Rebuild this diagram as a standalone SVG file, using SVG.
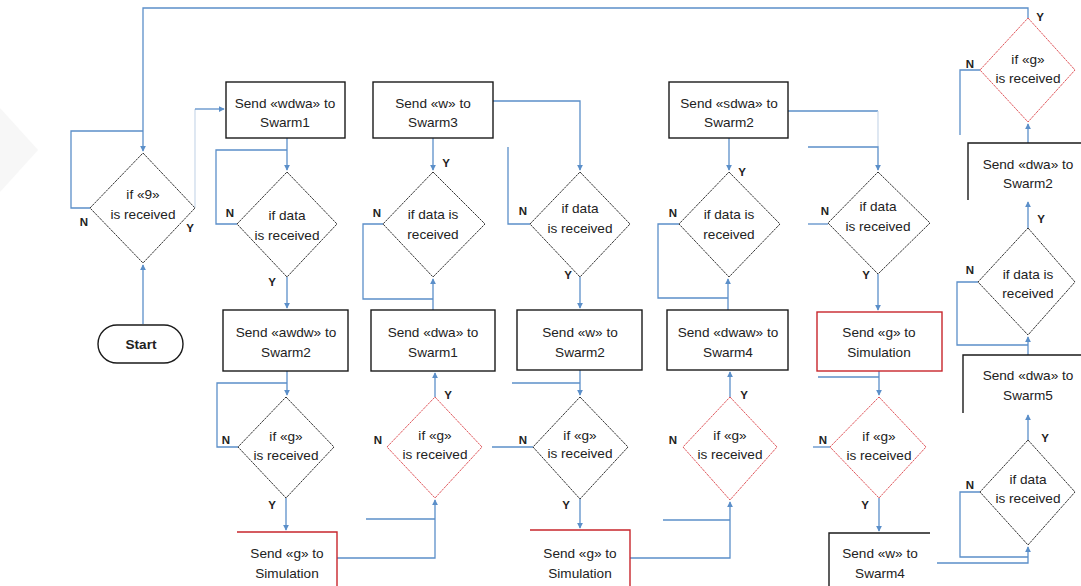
<svg xmlns="http://www.w3.org/2000/svg" width="1081" height="586" viewBox="0 0 1081 586">
  <style>
    .box { fill: #ffffff; stroke: #1a1a1a; stroke-width: 1.4; }
    .boxr { fill: #ffffff; stroke: #c8262c; stroke-width: 1.4; }
    .open { fill: none; stroke: #1a1a1a; stroke-width: 1.4; }
    .openr { fill: none; stroke: #c8262c; stroke-width: 1.4; }
    .dia { fill: #ffffff; stroke: #333333; stroke-width: 1; stroke-dasharray: 2.5 0.8; }
    .diar { fill: #ffffff; stroke: #e0575c; stroke-width: 1; stroke-dasharray: 2.5 0.8; }
    .t { font-family: "Liberation Sans", "Open Sans", sans-serif; font-size: 13.6px; fill: #222222; text-anchor: middle; }
    .yn { font-family: "Liberation Sans", sans-serif; font-size: 11.5px; font-weight: bold; fill: #222222; text-anchor: middle; }
    .c { fill: none; stroke: #5b8fc9; stroke-width: 1.3; }
    .cf { fill: none; stroke: #c9d8ea; stroke-width: 1.2; }
  </style>
  <defs>
    <marker id="arr" viewBox="0 0 8 8" refX="7" refY="4" markerWidth="6" markerHeight="6" orient="auto" markerUnits="userSpaceOnUse">
      <path d="M0,0 L8,4 L0,8 z" fill="#5b8fc9"/>
    </marker>
  </defs>

  <rect width="1081" height="586" fill="#ffffff"/>
  <!-- faint mark at the left margin -->
  <polygon points="0,108 38,150 0,192" fill="#f7f7f7"/>

  <!-- connectors -->
  <g id="connectors">
    <path class="c" d="M143,324 V265" marker-end="url(#arr)"/>
    <path class="c" d="M1028,18 V8 H143 V151" marker-end="url(#arr)"/>
    <path class="c" d="M90,208 H71 V131 H143"/>
    <path class="cf" d="M195,208 V109"/>
    <path class="c" d="M195,109 H224" marker-end="url(#arr)"/>
    <path class="c" d="M287,138 V170" marker-end="url(#arr)"/>
    <path class="c" d="M237,224 H216 V150 H287"/>
    <path class="c" d="M287,277 V308" marker-end="url(#arr)"/>
    <path class="c" d="M287,371 V395" marker-end="url(#arr)"/>
    <path class="c" d="M238,447 H217 V383 H287"/>
    <path class="c" d="M286,498 V530" marker-end="url(#arr)"/>
    <path class="c" d="M337,558 H435 V500" marker-end="url(#arr)"/>
    <path class="c" d="M366,519 H435"/>
    <path class="c" d="M435,397 V373" marker-end="url(#arr)"/>
    <path class="c" d="M433,310 V279" marker-end="url(#arr)"/>
    <path class="c" d="M383,224 H363 V299 H433"/>
    <path class="c" d="M433,138 V170" marker-end="url(#arr)"/>
    <path class="c" d="M493,101 H580 V170" marker-end="url(#arr)"/>
    <path class="c" d="M530,224 H508 V147"/>
    <path class="c" d="M580,277 V308" marker-end="url(#arr)"/>
    <path class="c" d="M580,370 V395" marker-end="url(#arr)"/>
    <path class="c" d="M512,383 H580"/>
    <path class="c" d="M533,447 H492"/>
    <path class="c" d="M580,499 V528" marker-end="url(#arr)"/>
    <path class="c" d="M630,558 H730 V502" marker-end="url(#arr)"/>
    <path class="c" d="M663,520 H730"/>
    <path class="c" d="M730,397 V372" marker-end="url(#arr)"/>
    <path class="c" d="M728,310 V279" marker-end="url(#arr)"/>
    <path class="c" d="M679,224 H658 V298 H728"/>
    <path class="c" d="M729,138 V170" marker-end="url(#arr)"/>
    <path class="c" d="M788,111 H878"/>
    <path class="cf" d="M878,111 V147"/>
    <path class="c" d="M808,147 H878 V170" marker-end="url(#arr)"/>
    <path class="c" d="M828,224 H808"/>
    <path class="c" d="M878,274 V310" marker-end="url(#arr)"/>
    <path class="c" d="M879,371 V395" marker-end="url(#arr)"/>
    <path class="c" d="M818,377 H879"/>
    <path class="c" d="M830,447 H813"/>
    <path class="c" d="M879,498 V531" marker-end="url(#arr)"/>
    <path class="c" d="M937,563 H1028 V547" marker-end="url(#arr)"/>
    <path class="c" d="M980,492 H960 V557 H1028"/>
    <path class="c" d="M1028,440 V415" marker-end="url(#arr)"/>
    <path class="c" d="M1028,355 V337" marker-end="url(#arr)"/>
    <path class="c" d="M978,282 H957 V345 H1028"/>
    <path class="c" d="M1028,228 V202" marker-end="url(#arr)"/>
    <path class="c" d="M1028,143 V124" marker-end="url(#arr)"/>
    <path class="c" d="M980,70 H960 V135"/>
  </g>

  <!-- start -->
  <g id="start">
    <rect class="box" x="98" y="325" width="85" height="38" rx="19" ry="19"/>
    <text class="t" x="141" y="349" font-weight="bold">Start</text>
  </g>

  <!-- column 1 -->
  <g id="d1">
    <polygon class="dia" points="143,153 195,208 143,263 90,208"/>
    <text class="t" x="143" y="199">if «9»</text>
    <text class="t" x="143" y="219">is received</text>
    <text class="yn" x="84" y="226">N</text>
    <text class="yn" x="190" y="232">Y</text>
  </g>

  <g id="b1">
    <rect class="box" x="226" y="82" width="119" height="56"/>
    <text class="t" x="285" y="108">Send «wdwa» to</text>
    <text class="t" x="285" y="127">Swarm1</text>
  </g>
  <g id="d2">
    <polygon class="dia" points="287,172 337,224 287,277 237,224"/>
    <text class="t" x="287" y="220">if  data</text>
    <text class="t" x="287" y="240">is received</text>
    <text class="yn" x="230" y="217">N</text>
    <text class="yn" x="272" y="286">Y</text>
  </g>
  <g id="b2">
    <rect class="box" x="223" y="310" width="125" height="61"/>
    <text class="t" x="286" y="337">Send «awdw» to</text>
    <text class="t" x="286" y="357">Swarm2</text>
  </g>
  <g id="d3">
    <polygon class="dia" points="286,397 334,447 286,498 238,447"/>
    <text class="t" x="286" y="441">if «g»</text>
    <text class="t" x="286" y="460">is received</text>
    <text class="yn" x="226" y="444">N</text>
    <text class="yn" x="272" y="509">Y</text>
  </g>
  <g id="b3">
    <path class="openr" d="M237,532 H337 V586"/>
    <text class="t" x="287" y="558">Send «g» to</text>
    <text class="t" x="287" y="578">Simulation</text>
  </g>

  <!-- column 2 -->
  <g id="b4">
    <rect class="box" x="373" y="82" width="120" height="56"/>
    <text class="t" x="433" y="108">Send «w» to</text>
    <text class="t" x="433" y="127">Swarm3</text>
  </g>
  <g id="d5">
    <polygon class="dia" points="433,172 485,224 433,277 383,224"/>
    <text class="t" x="433" y="219">if data is</text>
    <text class="t" x="433" y="239">received</text>
    <text class="yn" x="377" y="217">N</text>
    <text class="yn" x="446" y="167">Y</text>
  </g>
  <g id="b5">
    <rect class="box" x="371" y="310" width="124" height="61"/>
    <text class="t" x="433" y="337">Send «dwa» to</text>
    <text class="t" x="433" y="357">Swarm1</text>
  </g>
  <g id="d4">
    <polygon class="diar" points="435,397 482,447 435,498 387,447"/>
    <text class="t" x="435" y="440">if «g»</text>
    <text class="t" x="435" y="459">is received</text>
    <text class="yn" x="378" y="444">N</text>
    <text class="yn" x="448" y="399">Y</text>
  </g>

  <!-- column 3 -->
  <g id="d6">
    <polygon class="dia" points="580,172 630,224 580,277 530,224"/>
    <text class="t" x="580" y="213">if  data</text>
    <text class="t" x="580" y="233">is received</text>
    <text class="yn" x="523" y="215">N</text>
    <text class="yn" x="568" y="279">Y</text>
  </g>
  <g id="b6">
    <rect class="box" x="517" y="310" width="125" height="60"/>
    <text class="t" x="580" y="337">Send «w» to</text>
    <text class="t" x="580" y="357">Swarm2</text>
  </g>
  <g id="d7">
    <polygon class="dia" points="580,397 628,447 580,499 533,447"/>
    <text class="t" x="580" y="440">if «g»</text>
    <text class="t" x="580" y="458">is received</text>
    <text class="yn" x="523" y="444">N</text>
    <text class="yn" x="566" y="509">Y</text>
  </g>
  <g id="b7">
    <path class="openr" d="M530,530 H630 V586"/>
    <text class="t" x="580" y="558">Send «g» to</text>
    <text class="t" x="580" y="578">Simulation</text>
  </g>

  <!-- column 4 -->
  <g id="b8">
    <rect class="box" x="669" y="82" width="119" height="56"/>
    <text class="t" x="729" y="108">Send «sdwa» to</text>
    <text class="t" x="729" y="127">Swarm2</text>
  </g>
  <g id="d9">
    <polygon class="dia" points="729,172 780,224 729,277 679,224"/>
    <text class="t" x="729" y="219">if data is</text>
    <text class="t" x="729" y="239">received</text>
    <text class="yn" x="673" y="217">N</text>
    <text class="yn" x="742" y="176">Y</text>
  </g>
  <g id="b9">
    <rect class="box" x="667" y="310" width="121" height="60"/>
    <text class="t" x="728" y="337">Send «dwaw» to</text>
    <text class="t" x="728" y="357">Swarm4</text>
  </g>
  <g id="d8">
    <polygon class="diar" points="730,397 777,447 730,500 683,447"/>
    <text class="t" x="730" y="440">if «g»</text>
    <text class="t" x="730" y="459">is received</text>
    <text class="yn" x="673" y="444">N</text>
    <text class="yn" x="744" y="399">Y</text>
  </g>

  <!-- column 5 -->
  <g id="d10">
    <polygon class="dia" points="878,172 930,223 878,274 828,223"/>
    <text class="t" x="878" y="211">if  data</text>
    <text class="t" x="878" y="231">is received</text>
    <text class="yn" x="825" y="215">N</text>
    <text class="yn" x="866" y="279">Y</text>
  </g>
  <g id="b10">
    <rect class="boxr" x="817" y="312" width="125" height="59"/>
    <text class="t" x="879" y="337">Send «g» to</text>
    <text class="t" x="879" y="357">Simulation</text>
  </g>
  <g id="d11">
    <polygon class="diar" points="879,397 926,447 879,498 830,447"/>
    <text class="t" x="879" y="441">if «g»</text>
    <text class="t" x="879" y="460">is received</text>
    <text class="yn" x="823" y="444">N</text>
    <text class="yn" x="865" y="509">Y</text>
  </g>
  <g id="b11">
    <path class="open" d="M829,586 V533 H930"/>
    <text class="t" x="880" y="558">Send «w» to</text>
    <text class="t" x="880" y="578">Swarm4</text>
  </g>

  <!-- column 6 -->
  <g id="d14">
    <polygon class="diar" points="1028,18 1075,70 1028,122 980,70"/>
    <text class="t" x="1028" y="64">if «g»</text>
    <text class="t" x="1028" y="83">is received</text>
    <text class="yn" x="970" y="68">N</text>
    <text class="yn" x="1040" y="21">Y</text>
  </g>
  <g id="b12">
    <path class="open" d="M968,200 V143 H1081"/>
    <text class="t" x="1028" y="169">Send «dwa» to</text>
    <text class="t" x="1028" y="188">Swarm2</text>
  </g>
  <g id="d13">
    <polygon class="dia" points="1028,228 1075,282 1028,335 978,282"/>
    <text class="t" x="1028" y="279">if data is</text>
    <text class="t" x="1028" y="298">received</text>
    <text class="yn" x="970" y="274">N</text>
    <text class="yn" x="1041" y="223">Y</text>
  </g>
  <g id="b13">
    <path class="open" d="M963,413 V355 H1081"/>
    <text class="t" x="1028" y="380">Send «dwa» to</text>
    <text class="t" x="1028" y="400">Swarm5</text>
  </g>
  <g id="d12">
    <polygon class="dia" points="1028,440 1075,492 1028,545 980,492"/>
    <text class="t" x="1028" y="484">if data</text>
    <text class="t" x="1028" y="503">is received</text>
    <text class="yn" x="970" y="489">N</text>
    <text class="yn" x="1045" y="442">Y</text>
  </g>
</svg>
